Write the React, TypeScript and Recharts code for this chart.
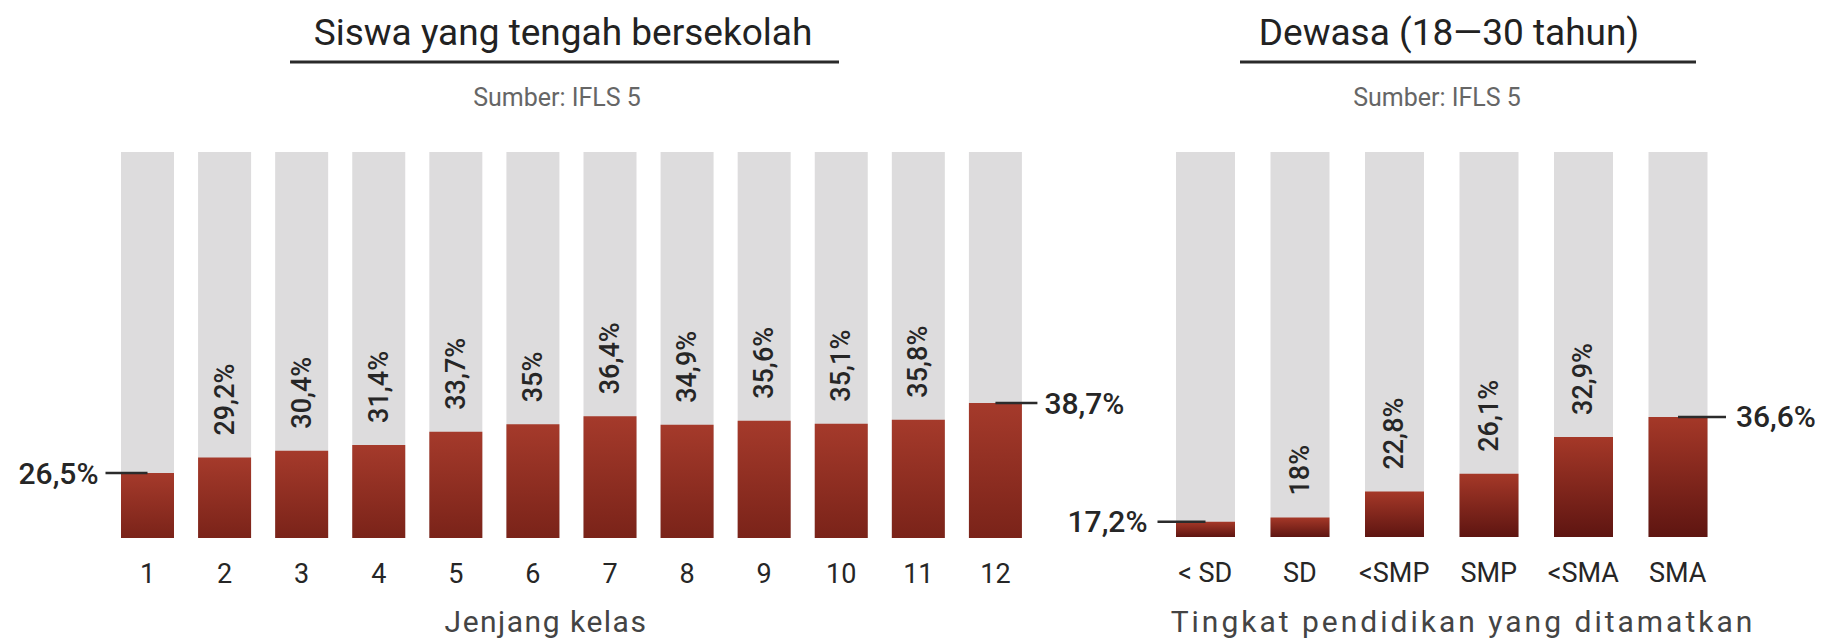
import React from 'react';
import { BarChart, Bar, XAxis, YAxis, LabelList } from 'recharts';

// ---- Data ----
const gradeCategories = ['1', '2', '3', '4', '5', '6', '7', '8', '9', '10', '11', '12'];
const gradeValues = [26.5, 29.2, 30.4, 31.4, 33.7, 35, 36.4, 34.9, 35.6, 35.1, 35.8, 38.7];

const eduCategories = ['< SD', 'SD', '<SMP', 'SMP', '<SMA', 'SMA'];
const eduValues = [17.2, 18, 22.8, 26.1, 32.9, 36.6];

const leftTitle = 'Siswa yang tengah bersekolah';
const rightTitle = 'Dewasa (18\u201430 tahun)';
const sourceText = 'Sumber: IFLS 5';
const leftAxisTitle = 'Jenjang kelas';
const rightAxisTitle = 'Tingkat pendidikan yang ditamatkan';

const gradeData = gradeCategories.map((c, i) => ({ name: c, value: gradeValues[i] }));
const eduData = eduCategories.map((c, i) => ({ name: c, value: eduValues[i] }));

const FONT = "Roboto, 'DejaVu Sans', sans-serif";
const fmt = (v: number) => `${String(v).replace('.', ',')}%`;

function makeLabel(n: number, lineLen: number, gap: number) {
  return (props: any) => {
    const { x, y, width, value, index } = props;
    const cx = Number(x) + Number(width) / 2;
    const top = Number(y);
    if (index === 0) {
      return (
        <g>
          <line x1={cx - lineLen} x2={cx} y1={top} y2={top} stroke="#2b2b2b" strokeWidth={2.5} />
          <text x={cx - lineLen - gap} y={top} textAnchor="end" dominantBaseline="central"
            fontFamily={FONT} fontSize={30} fontWeight={500} fill="#262626">{fmt(value)}</text>
        </g>
      );
    }
    if (index === n - 1) {
      return (
        <g>
          <line x1={cx} x2={cx + lineLen} y1={top} y2={top} stroke="#2b2b2b" strokeWidth={2.5} />
          <text x={cx + lineLen + gap} y={top} textAnchor="start" dominantBaseline="central"
            fontFamily={FONT} fontSize={30} fontWeight={500} fill="#262626">{fmt(value)}</text>
        </g>
      );
    }
    const ty = top - 22;
    return (
      <text x={cx} y={ty} transform={`rotate(-90 ${cx} ${ty})`} textAnchor="start" dominantBaseline="central"
        fontFamily={FONT} fontSize={27} fontWeight={500} fill="#262626">{fmt(value)}</text>
    );
  };
}

const Tick = (props: any) => {
  const { x, y, payload } = props;
  return (
    <text x={x} y={Number(y) + 45} textAnchor="middle" fontFamily={FONT} fontSize={27} fill="#262626">
      {payload.value}
    </text>
  );
};

export default function App() {
  return (
    <div style={{ position: 'absolute', left: 0, top: 0, width: 1832, height: 642, background: '#fff', overflow: 'hidden' }}>
      <div style={{ position: 'absolute', left: 0, top: 0 }}>
        <BarChart width={1832} height={642} data={gradeData}
          margin={{ top: 152, right: 798, bottom: 0, left: 109 }} barCategoryGap={0}>
          <defs>
            <linearGradient id="redL" x1="0" y1="0" x2="0" y2="1">
              <stop offset="0%" stopColor="#a53a2b" />
              <stop offset="100%" stopColor="#7a2319" />
            </linearGradient>
          </defs>
          <XAxis dataKey="name" height={104} axisLine={false} tickLine={false} tickSize={0} tickMargin={0}
            interval={0} tick={<Tick />} />
          <YAxis hide domain={[15.2, 82.4]} />
          <Bar dataKey="value" barSize={53} fill="url(#redL)" background={{ fill: '#dddcdd' }} isAnimationActive={false}>
            <LabelList dataKey="value" content={makeLabel(gradeValues.length, 42, 7)} />
          </Bar>
        </BarChart>
      </div>
      <div style={{ position: 'absolute', left: 0, top: 0 }}>
        <BarChart width={1832} height={642} data={eduData}
          margin={{ top: 152, right: 107, bottom: 0, left: 1158 }} barCategoryGap={0}>
          <defs>
            <linearGradient id="redR" x1="0" y1="0" x2="0" y2="1">
              <stop offset="0%" stopColor="#a53828" />
              <stop offset="100%" stopColor="#5e1511" />
            </linearGradient>
          </defs>
          <XAxis dataKey="name" height={105} axisLine={false} tickLine={false} tickSize={0} tickMargin={0}
            interval={0} tick={<Tick />} />
          <YAxis hide domain={[14.4, 85.6]} />
          <Bar dataKey="value" barSize={59} fill="url(#redR)" background={{ fill: '#dddcdd' }} isAnimationActive={false}>
            <LabelList dataKey="value" content={makeLabel(eduValues.length, 48, 10)} />
          </Bar>
        </BarChart>
      </div>
      <svg width={1832} height={642} style={{ position: 'absolute', left: 0, top: 0, pointerEvents: 'none' }}>
        <text x={563} y={45} textAnchor="middle" fontFamily={FONT} fontSize={37} fontWeight={400} fill="#222">{leftTitle}</text>
        <line x1={290} x2={839} y1={62} y2={62} stroke="#2a2a2a" strokeWidth={3} />
        <text x={557} y={106} textAnchor="middle" fontFamily={FONT} fontSize={25} fill="#666">{sourceText}</text>

        <text x={1449} y={45} textAnchor="middle" fontFamily={FONT} fontSize={37} fontWeight={400} fill="#222">{rightTitle}</text>
        <line x1={1240} x2={1696} y1={62} y2={62} stroke="#2a2a2a" strokeWidth={3} />
        <text x={1437} y={106} textAnchor="middle" fontFamily={FONT} fontSize={25} fill="#666">{sourceText}</text>

        <text x={546} y={632} textAnchor="middle" fontFamily={FONT} fontSize={30} letterSpacing={1.5} fill="#444">{leftAxisTitle}</text>
        <text x={1463} y={632} textAnchor="middle" fontFamily={FONT} fontSize={30} letterSpacing={3} fill="#444">{rightAxisTitle}</text>
      </svg>
    </div>
  );
}
